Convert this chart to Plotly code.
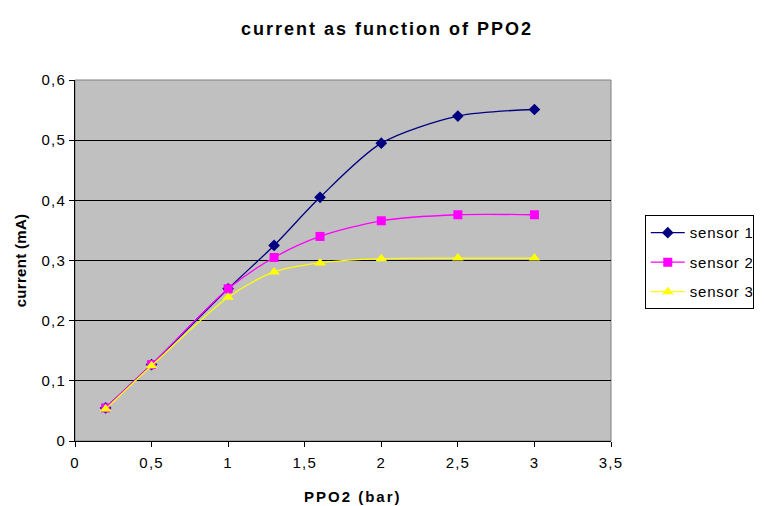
import plotly.graph_objects as go

ppo2 = [0.2, 0.5, 1.0, 1.3, 1.6, 2.0, 2.5, 3.0]
sensor1 = [0.055, 0.127, 0.253, 0.325, 0.405, 0.495, 0.540, 0.551]
sensor2 = [0.055, 0.127, 0.253, 0.305, 0.340, 0.366, 0.376, 0.376]
sensor3 = [0.053, 0.125, 0.239, 0.281, 0.296, 0.303, 0.304, 0.304]

names = ["sensor 1", "sensor 2", "sensor 3"]
colors = ["#000080", "#FF00FF", "#FFFF00"]
symbols = ["diamond", "square", "triangle-up"]
sizes = [9, 9, 10]

fig = go.Figure()
for i, ys in enumerate([sensor1, sensor2, sensor3]):
    fig.add_trace(go.Scatter(
        x=ppo2, y=ys, name=names[i], mode="lines+markers",
        line=dict(color=colors[i], width=1.3, shape="spline", smoothing=0.8),
        marker=dict(symbol=symbols[i], color=colors[i], size=sizes[i]),
        legendgroup=names[i],
    ))

font = "Liberation Sans, Arial, sans-serif"
fig.update_layout(
    width=758, height=498,
    margin=dict(l=67, r=155, t=72, b=65, autoexpand=False),
    paper_bgcolor="white", plot_bgcolor="#C0C0C0",
    font=dict(family=font, size=15, color="black"),
    title=dict(text="<b>current as function of PPO2</b>", x=0.5, xanchor="center",
               y=0.958, yanchor="middle", font=dict(size=18, family=font)),
    xaxis=dict(range=[0, 3.5], dtick=0.5, tickformat=".1~f", showgrid=False,
               showline=True, linecolor="black", linewidth=1, ticks="outside",
               ticklen=5, tickcolor="black", zeroline=False, ticklabelstandoff=3),
    yaxis=dict(range=[0, 0.6], dtick=0.1, tickformat=".1~f", showgrid=True,
               gridcolor="black", gridwidth=1, showline=True, linecolor="black",
               linewidth=1, ticks="outside", ticklen=5, tickcolor="black",
               zeroline=False,
               title=dict(text="<b>current (mA)</b>", font=dict(size=15), standoff=14)),
    separators=",.",
    legend=dict(x=1.063, y=0.625, xanchor="left", yanchor="top",
                bgcolor="white", bordercolor="black", borderwidth=1,
                font=dict(size=15), tracegroupgap=7, traceorder="grouped",
                itemwidth=34),
    showlegend=True,
)
fig.add_annotation(text="<b>PPO2 (bar)</b>", xref="paper", yref="paper",
                   x=0.5187, y=-0.1524, xanchor="center", yanchor="middle",
                   showarrow=False, font=dict(size=15))
fig.add_shape(type="rect", xref="paper", yref="paper", x0=0, y0=0, x1=1, y1=1,
              line=dict(color="#808080", width=1), layer="below")

js = """
var gd = document.getElementById('{plot_id}');
function ls(){
  var set = function(sel, v){ gd.querySelectorAll(sel).forEach(function(t){ t.style.letterSpacing = v; }); };
  set('.gtitle', '2px'); set('.annotation-text', '2px'); set('.ytitle', '0.3px');
  set('.xtick text', '1.2px'); set('.ytick text', '1.2px'); set('.legendtext', '0.8px');
}
ls();
gd.on('plotly_afterplot', ls);
"""
fig.write_html("out.html", post_script=js)
